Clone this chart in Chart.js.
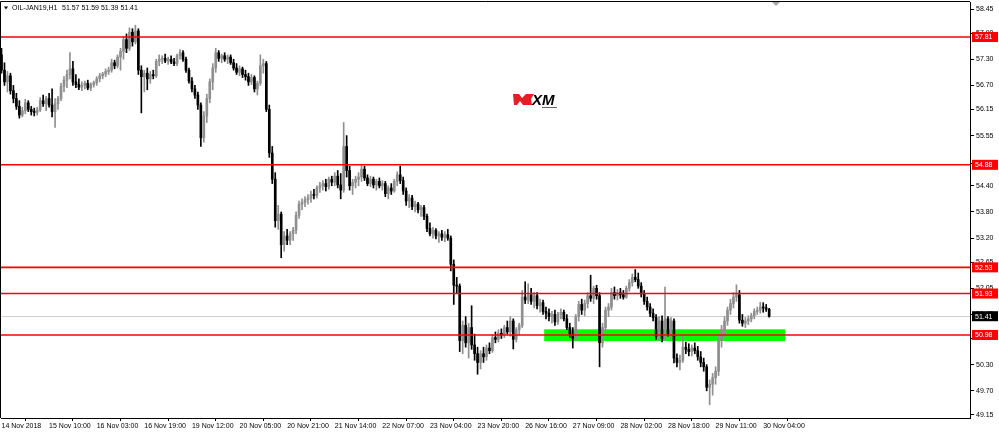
<!DOCTYPE html>
<html>
<head>
<meta charset="utf-8">
<script src="https://cdn.jsdelivr.net/npm/chart.js@4.4.1/dist/chart.umd.min.js"></script>
<style>
  html, body { margin: 0; padding: 0; background: #fff; }
  #wrap { width: 999px; height: 434px; position: relative; }
</style>
</head>
<body>
<div id="wrap"><canvas id="myChart"></canvas></div>
<script>
// Judul chart (symbol, timeframe, OHLC bar terakhir)
const symbolName = 'OIL-JAN19,H1';
const lastOhlc = '51.57 51.59 51.39 51.41';

// Label waktu, satu label tiap 16 bar
const timeLabels = ['14 Nov 2018', '15 Nov 10:00', '16 Nov 03:00', '16 Nov 19:00', '19 Nov 12:00',
  '20 Nov 05:00', '20 Nov 21:00', '21 Nov 14:00', '22 Nov 07:00', '23 Nov 04:00', '23 Nov 20:00',
  '26 Nov 16:00', '27 Nov 09:00', '28 Nov 02:00', '28 Nov 18:00', '29 Nov 11:00', '30 Nov 04:00'];
const barsPerLabel = 16;

// Label harga di sumbu kanan
const priceTicks = [58.45, 57.90, 57.30, 56.70, 56.15, 55.55, 54.90, 54.40, 53.80, 53.20,
  52.65, 52.05, 51.45, 50.90, 50.30, 49.70, 49.15];

// Level support / resistance (garis merah) dan harga terakhir
const levels = [57.81, 54.88, 52.53, 51.93, 50.98];
const lastPrice = 51.41;

// Zona hijau (harga bawah/atas, bar awal/akhir)
const zonePrice = [50.84, 51.11];
const zoneBars = [182.4, 263.4];

// Data OHLC per jam
const open = [
  57.40,57.05,56.78,56.92,56.58,56.40,56.22,56.02,56.12,56.30,56.15,56.10,56.08,56.14,56.35,56.28,56.40,56.25,56.10,56.28,
  56.40,56.68,56.82,56.95,57.08,56.78,56.72,56.66,56.70,56.75,56.64,56.72,56.76,56.85,56.92,56.96,57.02,57.05,57.22,57.15,
  57.35,57.48,57.75,57.55,57.92,57.70,57.95,57.05,56.90,56.98,56.85,56.95,56.92,57.25,57.30,57.32,57.26,57.30,57.24,57.20,
  57.38,57.45,57.30,57.05,56.80,56.62,56.48,56.25,55.50,56.00,56.40,56.78,57.10,57.45,57.32,57.38,57.30,57.35,57.22,57.10,
  57.00,57.08,56.95,56.90,56.78,56.88,56.62,56.75,57.15,57.20,56.15,55.15,54.55,53.60,53.75,53.05,53.25,53.15,53.30,53.38,
  53.72,53.98,54.02,54.08,54.12,54.20,54.18,54.35,54.40,54.45,54.38,54.55,54.48,54.62,54.42,54.30,55.30,54.75,54.40,54.48,
  54.55,54.60,54.78,54.58,54.45,54.55,54.42,54.50,54.40,54.45,54.22,54.35,54.28,54.50,54.65,54.52,54.28,54.05,54.12,53.92,
  53.98,53.85,53.90,53.70,53.42,53.30,53.38,53.25,53.30,53.22,53.28,53.20,52.60,52.12,52.10,50.85,51.20,50.80,51.15,50.75,
  50.55,50.35,50.55,50.48,50.68,50.62,50.92,50.88,51.02,50.98,51.15,51.05,51.30,50.88,51.10,51.20,51.85,51.78,51.90,51.75,
  51.88,51.65,51.72,51.52,51.48,51.40,51.45,51.28,51.45,51.50,51.35,51.15,51.00,50.90,51.40,51.68,51.55,51.70,51.88,51.82,
  52.05,51.88,50.80,51.15,51.55,51.62,51.95,51.88,51.95,51.90,51.85,52.05,52.18,52.30,52.25,52.10,51.92,51.75,51.62,51.48,
  51.38,50.95,51.30,50.90,51.35,51.00,51.30,50.45,50.35,50.40,50.70,50.65,50.60,50.68,50.62,50.48,50.35,50.25,49.78,49.85,
  50.00,50.15,50.85,51.10,51.30,51.55,51.70,51.85,51.90,51.32,51.25,51.30,51.35,51.42,51.52,51.55,51.62,51.60,51.57
];
const high = [
  57.55,57.22,57.02,56.98,56.70,56.52,56.35,56.20,56.38,56.35,56.22,56.18,56.20,56.42,56.48,56.45,56.52,56.62,56.40,56.45,
  56.75,56.90,57.05,57.45,57.25,56.95,56.85,56.78,56.80,56.82,56.76,56.80,56.90,56.98,57.00,57.08,57.12,57.30,57.28,57.40,
  57.55,57.82,57.88,58.02,58.00,58.08,58.00,57.15,57.05,57.10,57.02,57.05,57.30,57.40,57.38,57.42,57.35,57.38,57.32,57.42,
  57.52,57.50,57.35,57.10,56.88,56.70,56.55,56.30,56.10,56.50,56.85,57.20,57.55,57.50,57.42,57.45,57.40,57.40,57.30,57.20,
  57.15,57.12,57.05,56.98,56.95,56.92,56.80,57.40,57.30,57.25,56.25,55.30,54.70,53.95,53.80,53.35,53.40,53.35,53.45,53.80,
  54.05,54.10,54.15,54.20,54.28,54.32,54.40,54.48,54.52,54.55,54.60,54.62,54.70,54.75,54.68,55.85,55.55,54.85,54.55,54.62,
  54.70,54.88,54.85,54.65,54.62,54.60,54.55,54.58,54.52,54.50,54.40,54.45,54.55,54.72,54.85,54.60,54.35,54.20,54.18,54.05,
  54.02,53.95,53.95,53.75,53.55,53.45,53.42,53.35,53.38,53.35,53.40,53.25,52.70,52.30,52.15,51.30,51.40,51.25,51.65,51.00,
  50.70,50.62,50.70,50.75,50.80,50.98,51.05,51.10,51.12,51.20,51.30,51.40,51.35,51.15,51.25,52.00,52.20,52.15,52.05,51.95,
  51.95,51.80,51.78,51.62,51.58,51.52,51.55,51.50,51.58,51.55,51.45,51.25,51.15,51.45,51.75,51.80,51.78,51.95,52.35,52.10,
  52.12,51.95,51.25,51.62,51.70,52.05,52.08,52.02,52.05,52.00,52.10,52.25,52.38,52.48,52.40,52.18,52.00,51.85,51.70,51.58,
  51.45,51.40,51.42,52.08,51.40,51.38,51.35,50.55,50.52,50.98,50.82,50.78,50.75,50.80,50.72,50.60,50.45,50.30,49.95,50.10,
  50.25,50.95,51.20,51.40,51.62,51.80,51.95,52.13,52.00,51.45,51.38,51.42,51.48,51.58,51.62,51.73,51.72,51.68,51.59
];
const low = [
  56.98,56.70,56.55,56.50,56.30,56.15,55.95,55.98,56.05,56.10,56.02,56.00,56.02,56.10,56.22,56.12,56.20,55.98,55.74,56.15,
  56.35,56.55,56.65,56.85,56.70,56.65,56.60,56.58,56.62,56.60,56.58,56.66,56.70,56.78,56.85,56.90,56.95,57.00,57.08,57.10,
  57.05,57.30,57.45,57.50,57.60,57.65,56.95,56.07,56.55,56.60,56.75,56.85,56.88,57.15,57.20,57.22,57.18,57.20,57.15,57.15,
  57.30,57.25,57.00,56.75,56.55,56.40,56.15,55.30,55.40,55.85,56.30,56.60,57.00,57.25,57.22,57.25,57.20,57.18,57.05,56.95,
  56.92,56.88,56.82,56.70,56.72,56.55,56.48,56.70,56.98,56.10,55.05,54.45,53.45,53.40,52.75,52.90,53.05,53.05,53.15,53.30,
  53.65,53.85,53.92,53.98,54.02,54.10,54.12,54.25,54.30,54.28,54.32,54.40,54.40,54.35,54.10,54.25,54.60,54.30,54.20,54.35,
  54.40,54.50,54.52,54.40,54.38,54.35,54.30,54.35,54.30,54.15,54.10,54.20,54.25,54.40,54.45,54.20,53.95,53.90,53.85,53.80,
  53.78,53.70,53.62,53.35,53.25,53.20,53.18,53.10,53.15,53.12,53.15,52.45,51.68,51.95,50.60,50.55,50.70,50.45,50.65,50.40,
  50.08,50.20,50.35,50.40,50.55,50.58,50.80,50.82,50.90,50.92,51.00,50.95,50.66,50.82,50.98,51.15,51.70,51.70,51.68,51.60,
  51.58,51.50,51.45,51.35,51.30,51.25,51.20,51.22,51.35,51.30,51.10,50.92,50.68,50.85,51.30,51.45,51.42,51.60,51.75,51.70,
  51.80,50.25,50.70,51.05,51.40,51.55,51.80,51.78,51.82,51.80,51.82,51.98,52.10,52.20,52.05,51.85,51.68,51.55,51.40,51.30,
  50.88,50.85,50.82,50.85,50.95,50.90,50.34,50.25,50.18,50.35,50.55,50.50,50.50,50.55,50.40,50.25,50.15,49.70,49.38,49.60,
  49.85,50.05,50.70,50.95,51.20,51.45,51.60,51.75,51.25,51.18,51.15,51.22,51.28,51.35,51.45,51.48,51.50,51.52,51.39
];
const close = [
  57.05,56.78,56.92,56.58,56.40,56.22,56.02,56.12,56.30,56.15,56.10,56.08,56.14,56.35,56.28,56.40,56.25,56.10,56.28,56.40,
  56.68,56.82,56.95,57.08,56.78,56.72,56.66,56.70,56.75,56.64,56.72,56.76,56.85,56.92,56.96,57.02,57.05,57.22,57.15,57.35,
  57.48,57.75,57.55,57.92,57.70,57.95,57.05,56.90,56.98,56.85,56.95,56.92,57.25,57.30,57.32,57.26,57.30,57.24,57.20,57.38,
  57.45,57.30,57.05,56.80,56.62,56.48,56.25,55.50,56.00,56.40,56.78,57.10,57.45,57.32,57.38,57.30,57.35,57.22,57.10,57.00,
  57.08,56.95,56.90,56.78,56.88,56.62,56.75,57.15,57.20,56.15,55.15,54.55,53.60,53.75,53.05,53.25,53.15,53.30,53.38,53.72,
  53.98,54.02,54.08,54.12,54.20,54.18,54.35,54.40,54.45,54.38,54.55,54.48,54.62,54.42,54.30,55.30,54.75,54.40,54.48,54.55,
  54.60,54.78,54.58,54.45,54.55,54.42,54.50,54.40,54.45,54.22,54.35,54.28,54.50,54.65,54.52,54.28,54.05,54.12,53.92,53.98,
  53.85,53.90,53.70,53.42,53.30,53.38,53.25,53.30,53.22,53.28,53.20,52.60,52.12,52.10,50.85,51.20,50.80,51.15,50.75,50.55,
  50.35,50.55,50.48,50.68,50.62,50.92,50.88,51.02,50.98,51.15,51.05,51.30,50.88,51.10,51.20,51.85,51.78,51.90,51.75,51.88,
  51.65,51.72,51.52,51.48,51.40,51.45,51.28,51.45,51.50,51.35,51.15,51.00,50.90,51.40,51.68,51.55,51.70,51.88,51.82,52.05,
  51.88,50.80,51.15,51.55,51.62,51.95,51.88,51.95,51.90,51.85,52.05,52.18,52.30,52.25,52.10,51.92,51.75,51.62,51.48,51.38,
  50.95,51.30,50.90,51.35,51.00,51.30,50.45,50.35,50.40,50.70,50.65,50.60,50.68,50.62,50.48,50.35,50.25,49.78,49.85,50.00,
  50.15,50.85,51.10,51.30,51.55,51.70,51.85,51.90,51.32,51.25,51.30,51.35,51.42,51.52,51.55,51.62,51.60,51.57,51.41
];

// Warna candle: naik abu-abu, turun hitam
const bullColor = '#8f8f8f';
const bearColor = '#000000';
const candleColors = close.map((c, i) => c >= open[i] ? bullColor : bearColor);

const fontAxis = { family: 'Liberation Sans', size: 7 };

// Plugin untuk zona, garis level, kotak harga, judul dan logo
const overlay = {
  id: 'overlay',
  beforeDatasetsDraw(chart) {
    const { ctx, chartArea: a, scales: { x, y } } = chart;
    ctx.save();
    // zona hijau
    const zx1 = x.getPixelForValue(zoneBars[0]);
    const zx2 = x.getPixelForValue(zoneBars[1]);
    const zy1 = y.getPixelForValue(zonePrice[1]);
    const zy2 = y.getPixelForValue(zonePrice[0]);
    ctx.fillStyle = '#00ff00';
    ctx.fillRect(zx1, zy1, zx2 - zx1, zy2 - zy1);
    // garis harga terakhir
    const ly = Math.round(y.getPixelForValue(lastPrice)) + 0.5;
    ctx.strokeStyle = '#cfcfcf';
    ctx.lineWidth = 1;
    ctx.beginPath();
    ctx.moveTo(a.left, ly);
    ctx.lineTo(a.right, ly);
    ctx.stroke();
    ctx.restore();
  },
  afterDatasetsDraw(chart) {
    const { ctx, chartArea: a, scales: { y } } = chart;
    ctx.save();
    ctx.strokeStyle = '#ff0000';
    ctx.lineWidth = 1.6;
    levels.forEach(v => {
      const py = y.getPixelForValue(v);
      ctx.beginPath();
      ctx.moveTo(a.left, py);
      ctx.lineTo(a.right, py);
      ctx.stroke();
    });
    // bingkai kiri dan atas
    ctx.strokeStyle = '#000';
    ctx.lineWidth = 1;
    ctx.beginPath();
    ctx.moveTo(a.left - 0.5, a.bottom);
    ctx.lineTo(a.left - 0.5, a.top - 0.5);
    ctx.lineTo(a.right, a.top - 0.5);
    ctx.stroke();
    ctx.restore();
  },
  afterDraw(chart) {
    const { ctx, chartArea: a, scales: { y } } = chart;
    ctx.save();
    ctx.font = '7px "Liberation Sans"';
    ctx.textBaseline = 'middle';
    ctx.textAlign = 'left';
    const box = (v, fill) => {
      const py = y.getPixelForValue(v);
      ctx.fillStyle = fill;
      ctx.fillRect(a.right + 2, py - 5, 26, 10);
      ctx.fillStyle = '#fff';
      ctx.fillText(v.toFixed(2), a.right + 5, py + 0.5);
    };
    levels.forEach(v => box(v, '#ff0000'));
    box(lastPrice, '#000000');

    // judul kiri atas
    ctx.fillStyle = '#000';
    ctx.beginPath();
    ctx.moveTo(4, 6.5);
    ctx.lineTo(8, 6.5);
    ctx.lineTo(6, 9.5);
    ctx.closePath();
    ctx.fill();
    ctx.fillText(symbolName, 12, 8.5);
    ctx.fillText(lastOhlc, 62, 8.5);

    // penanda shift chart
    ctx.fillStyle = '#a8a8a8';
    ctx.beginPath();
    ctx.moveTo(772, 2);
    ctx.lineTo(780, 2);
    ctx.lineTo(776, 6);
    ctx.closePath();
    ctx.fill();

    // logo XM
    ctx.fillStyle = '#e41e26';
    ctx.beginPath();
    ctx.moveTo(513, 94);
    ctx.lineTo(519, 94);
    ctx.lineTo(522, 98);
    ctx.lineTo(526, 94);
    ctx.lineTo(534, 94);
    ctx.lineTo(531, 99);
    ctx.lineTo(532, 105);
    ctx.lineTo(523, 105);
    ctx.lineTo(520, 101);
    ctx.lineTo(517, 105);
    ctx.lineTo(514, 105);
    ctx.closePath();
    ctx.fill();
    ctx.fillStyle = '#000';
    ctx.font = 'italic bold 15px "Liberation Sans"';
    ctx.textBaseline = 'alphabetic';
    ctx.fillText('XM', 532, 105);
    ctx.fillStyle = '#666';
    ctx.fillRect(542, 107, 15, 1);
    ctx.restore();
  }
};

const ctx = document.getElementById('myChart').getContext('2d');
const myChart = new Chart(ctx, {
  type: 'bar',
  data: {
    datasets: [
      {
        label: 'wick',
        data: close.map((_, i) => ({ x: i, y: [low[i], high[i]] })),
        backgroundColor: candleColors,
        barThickness: 1,
        grouped: false,
        order: 2
      },
      {
        label: 'body',
        data: close.map((_, i) => ({ x: i, y: [open[i], close[i]] })),
        backgroundColor: candleColors,
        barThickness: 2,
        minBarLength: 1,
        grouped: false,
        order: 1
      }
    ]
  },
  options: {
    responsive: true,
    maintainAspectRatio: false,
    animation: false,
    layout: { padding: { left: 1, top: 2, right: 0, bottom: 0 } },
    plugins: {
      legend: { display: false },
      tooltip: { enabled: false }
    },
    scales: {
      x: {
        type: 'linear',
        offset: false,
        min: -0.17,
        max: 325.5,
        afterBuildTicks: s => { s.ticks = timeLabels.map((_, k) => ({ value: k * barsPerLabel })); },
        afterFit: s => { s.height = 16; s.paddingLeft = 0; s.paddingRight = 0; },
        ticks: {
          callback: (v, i) => timeLabels[i],
          align: 'start',
          autoSkip: false,
          maxRotation: 0,
          padding: 1,
          color: '#000',
          font: fontAxis
        },
        grid: { drawOnChartArea: false, drawTicks: true, tickLength: 3, color: '#000' },
        border: { display: true, color: '#000' }
      },
      y: {
        position: 'right',
        min: 49.077,
        max: 58.612,
        afterBuildTicks: s => { s.ticks = priceTicks.map(v => ({ value: v })); },
        afterFit: s => { s.width = 29; s.paddingTop = 0; s.paddingBottom = 0; },
        ticks: {
          callback: v => v.toFixed(2),
          padding: 2,
          color: '#000',
          font: fontAxis
        },
        grid: { drawOnChartArea: false, drawTicks: true, tickLength: 4, color: '#000' },
        border: { display: true, color: '#000' }
      }
    }
  },
  plugins: [overlay]
});
</script>
</body>
</html>
